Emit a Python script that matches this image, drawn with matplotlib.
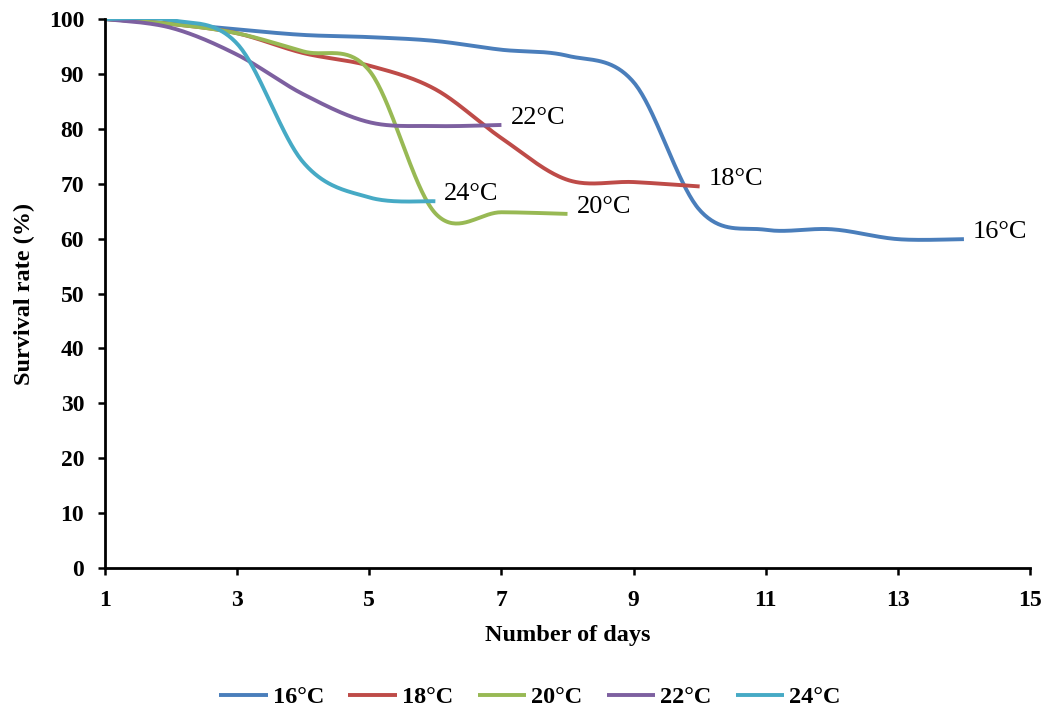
import numpy as np
import matplotlib
matplotlib.use("Agg")
import matplotlib.pyplot as plt

# ---- data ----
days_16 = [1, 2, 3, 4, 5, 6, 7, 8, 9, 10, 11, 12, 13, 14]
surv_16 = [100, 99.2, 98.1, 97.1, 96.7, 96.0, 94.4, 93.3, 88.5, 65.2, 61.6, 61.7, 59.9, 59.9]
days_18 = [1, 2, 3, 4, 5, 6, 7, 8, 9, 10]
surv_18 = [100, 99.1, 97.4, 93.8, 91.5, 87.2, 78.3, 70.7, 70.3, 69.5]
days_20 = [1, 2, 3, 4, 5, 6, 7, 8]
surv_20 = [100, 99.1, 97.4, 94.1, 90.6, 64.6, 64.8, 64.5]
days_22 = [1, 2, 3, 4, 5, 6, 7]
surv_22 = [100, 98.4, 93.5, 86.3, 81.2, 80.5, 80.7]
days_24 = [1, 2, 3, 4, 5, 6]
surv_24 = [100, 99.8, 95.5, 73.9, 67.5, 66.8]

labels = ["16°C", "18°C", "20°C", "22°C", "24°C"]
colors = ["#4A7EBB", "#BE4B48", "#98B954", "#7D60A0", "#46AAC5"]
x_ticks = [1, 3, 5, 7, 9, 11, 13, 15]
y_ticks = list(range(0, 101, 10))

series = [(days_16, surv_16), (days_18, surv_18), (days_20, surv_20),
          (days_22, surv_22), (days_24, surv_24)]


def smooth(x, y, n=40):
    """Excel-like smoothed line: cubic Bezier segments with Catmull-Rom control points."""
    x = np.asarray(x, float)
    y = np.asarray(y, float)
    P = np.column_stack([x, y])
    m = len(P)
    out = [P[0]]
    t = np.linspace(0, 1, n)[1:, None]
    for i in range(m - 1):
        p0 = P[i - 1] if i > 0 else P[i]
        p1 = P[i]
        p2 = P[i + 1]
        p3 = P[i + 2] if i + 2 < m else P[i + 1]
        c1 = p1 + (p2 - p0) / 6.0
        c2 = p2 - (p3 - p1) / 6.0
        seg = ((1 - t) ** 3) * p1 + 3 * ((1 - t) ** 2) * t * c1 + 3 * (1 - t) * t ** 2 * c2 + t ** 3 * p2
        out.extend(seg)
    out = np.array(out)
    return out[:, 0], out[:, 1]


plt.rcParams['font.family'] = ['Liberation Serif', 'DejaVu Serif']

fig = plt.figure(figsize=(10.51, 7.13), dpi=100)
ax = fig.add_axes([105 / 1051, 1 - 568 / 713, (1030 - 105) / 1051, (568 - 19) / 713])

handles = []
for (x, y), lab, col in zip(series, labels, colors):
    sx, sy = smooth(x, y)
    h, = ax.plot(sx, sy, color=col, lw=2.8, solid_capstyle='butt', label=lab)
    handles.append(h)
    ax.annotate(lab, xy=(x[-1], y[-1]), xytext=(9, 7), textcoords='offset pixels',
                ha='left', va='center', fontsize=19, color='black')

ax.set_xlim(1, 15)
ax.set_ylim(0, 100)
ax.set_xticks(x_ticks)
ax.set_yticks(y_ticks)
ax.set_xticklabels([str(v) for v in x_ticks], fontweight='bold', fontsize=17)
ax.set_yticklabels([str(v) for v in y_ticks], fontweight='bold', fontsize=17)
ax.tick_params(axis='both', direction='out', length=5, width=1.8, color='black')
ax.tick_params(axis='x', pad=11)
ax.tick_params(axis='y', pad=10)
for s in ['top', 'right']:
    ax.spines[s].set_visible(False)
for s in ['left', 'bottom']:
    ax.spines[s].set_linewidth(2)
    ax.spines[s].set_color('black')

ax.set_xlabel("Number of days", fontweight='bold', fontsize=17.5, va='center')
ax.xaxis.set_label_coords(0.5, -68 / 549)
ax.set_ylabel("Survival rate (%)", fontweight='bold', fontsize=17.5, va='center')
ax.yaxis.set_label_coords(-81 / 925, 0.5)

fig.legend(handles=handles, labels=labels, loc='center', bbox_to_anchor=(530 / 1051, 1 - 697 / 713),
           ncol=5, frameon=False, prop={'weight': 'bold', 'size': 17.5},
           handlelength=2.0, handletextpad=0.2, columnspacing=1.0)

fig.savefig("out.png", dpi=100)
